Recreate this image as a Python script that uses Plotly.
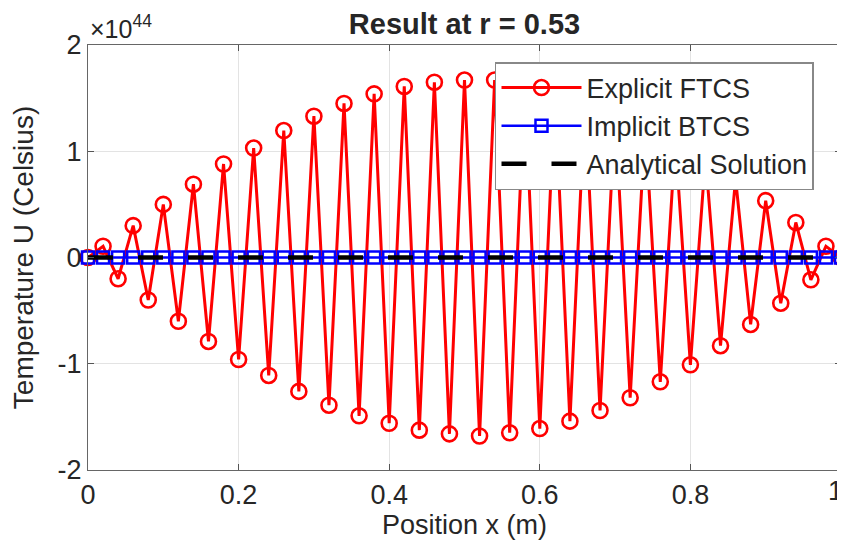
import plotly.graph_objects as go

# ---- data (values in units of 1e44) ----
SCALE = 1e44
x_pos = [round(i * 0.02, 2) for i in range(51)]
u_explicit = [
    0.0, 0.106, -0.20, 0.30, -0.40, 0.50, -0.60, 0.69, -0.79, 0.88,
    -0.96, 1.03, -1.11, 1.195, -1.26, 1.33, -1.39, 1.45, -1.49, 1.54,
    -1.56, 1.61, -1.625, 1.65, -1.66, 1.67, -1.68, 1.67, -1.65, 1.63,
    -1.61, 1.57, -1.54, 1.49, -1.44, 1.39, -1.32, 1.26, -1.17, 1.11,
    -1.01, 0.95, -0.83, 0.74, -0.63, 0.535, -0.43, 0.33, -0.21, 0.106,
    0.0,
]
u_implicit = [0.0] * 51
u_analytical = [0.0] * 51

x_ticks = [0, 0.2, 0.4, 0.6, 0.8, 1]
x_ticklabels = ["0", "0.2", "0.4", "0.6", "0.8", "1"]
y_ticks = [-2, -1, 0, 1, 2]
y_ticklabels = ["-2", "-1", "0", "1", "2"]

FONT = "Liberation Sans, Arial, sans-serif"
TXT = "#262626"

# page body has an 8px default margin, so the figure is 8px smaller
W, H = 837, 543
ML, MR, MT, MB = 80, 4, 37, 81

fig = go.Figure()
fig.add_trace(go.Scatter(
    x=x_pos, y=[v * SCALE for v in u_explicit], name="Explicit FTCS",
    mode="lines+markers", cliponaxis=False,
    line=dict(color="#ff0000", width=3),
    marker=dict(symbol="circle-open", size=15, color="#ff0000",
                line=dict(width=2.6, color="#ff0000")),
))
fig.add_trace(go.Scatter(
    x=x_pos, y=[v * SCALE for v in u_implicit], name="Implicit BTCS",
    mode="lines+markers", cliponaxis=False,
    line=dict(color="#0000ff", width=2.5),
    marker=dict(symbol="square-open", size=12, color="#0000ff",
                line=dict(width=2.5, color="#0000ff")),
))
fig.add_trace(go.Scatter(
    x=x_pos, y=[v * SCALE for v in u_analytical], name="Analytical Solution",
    mode="lines",
    line=dict(color="#000000", width=4.5, dash="25px,25px"),
))

fig.update_layout(
    width=W, height=H,
    margin=dict(l=ML, r=MR, t=MT, b=MB),
    paper_bgcolor="white", plot_bgcolor="white",
    font=dict(family=FONT, size=27, color=TXT),
    title=dict(text="<b>Result at r = 0.53</b>",
               x=(ML + (W - MR)) / 2 / W, xanchor="center",
               y=1 - 16 / H, yanchor="middle",
               font=dict(size=29, color=TXT)),
    legend=dict(x=0.5405, y=0.96, xanchor="left", yanchor="top",
                bgcolor="white", bordercolor="#888888", borderwidth=1.5,
                font=dict(size=27, color=TXT), tracegroupgap=0,
                itemwidth=80),
    showlegend=True,
)
fig.update_xaxes(
    range=[0, 1], tickvals=x_ticks,
    ticktext=x_ticklabels[:-1] + [""],
    automargin=False, ticklabeloverflow="allow",
    showgrid=True, gridcolor="#e3e3e3", gridwidth=1, zeroline=False,
    showline=True, linecolor="#666666", linewidth=1.3, mirror="ticks",
    ticks="inside", ticklen=6, tickcolor="#555555",
    tickfont=dict(size=27, color=TXT),
    title=dict(text="Position x (m)", font=dict(size=27, color=TXT), standoff=2),
)
fig.update_yaxes(
    range=[-2 * SCALE, 2 * SCALE], tickvals=[t * SCALE for t in y_ticks],
    ticktext=y_ticklabels, automargin=False, ticklabeloverflow="allow",
    showgrid=True, gridcolor="#e3e3e3", gridwidth=1, zeroline=False,
    showline=True, linecolor="#666666", linewidth=1.3, mirror="ticks",
    ticks="inside", ticklen=6, tickcolor="#555555",
    tickfont=dict(size=27, color=TXT),
    title=dict(text="Temperature U (Celsius)", font=dict(size=28, color=TXT), standoff=16),
)
# last x tick label kept inside the page edge
fig.add_annotation(
    text=x_ticklabels[-1], xref="x", yref="paper", x=x_ticks[-1], y=0,
    xanchor="right", yanchor="top", showarrow=False, xshift=4, yshift=-4,
    font=dict(size=27, color=TXT),
)
fig.add_annotation(
    text="×10<sup>44</sup>", xref="paper", yref="paper", x=0, y=1,
    xanchor="left", yanchor="bottom", showarrow=False, yshift=0,
    font=dict(size=25, color=TXT),
)

fig.write_html("out.html")
